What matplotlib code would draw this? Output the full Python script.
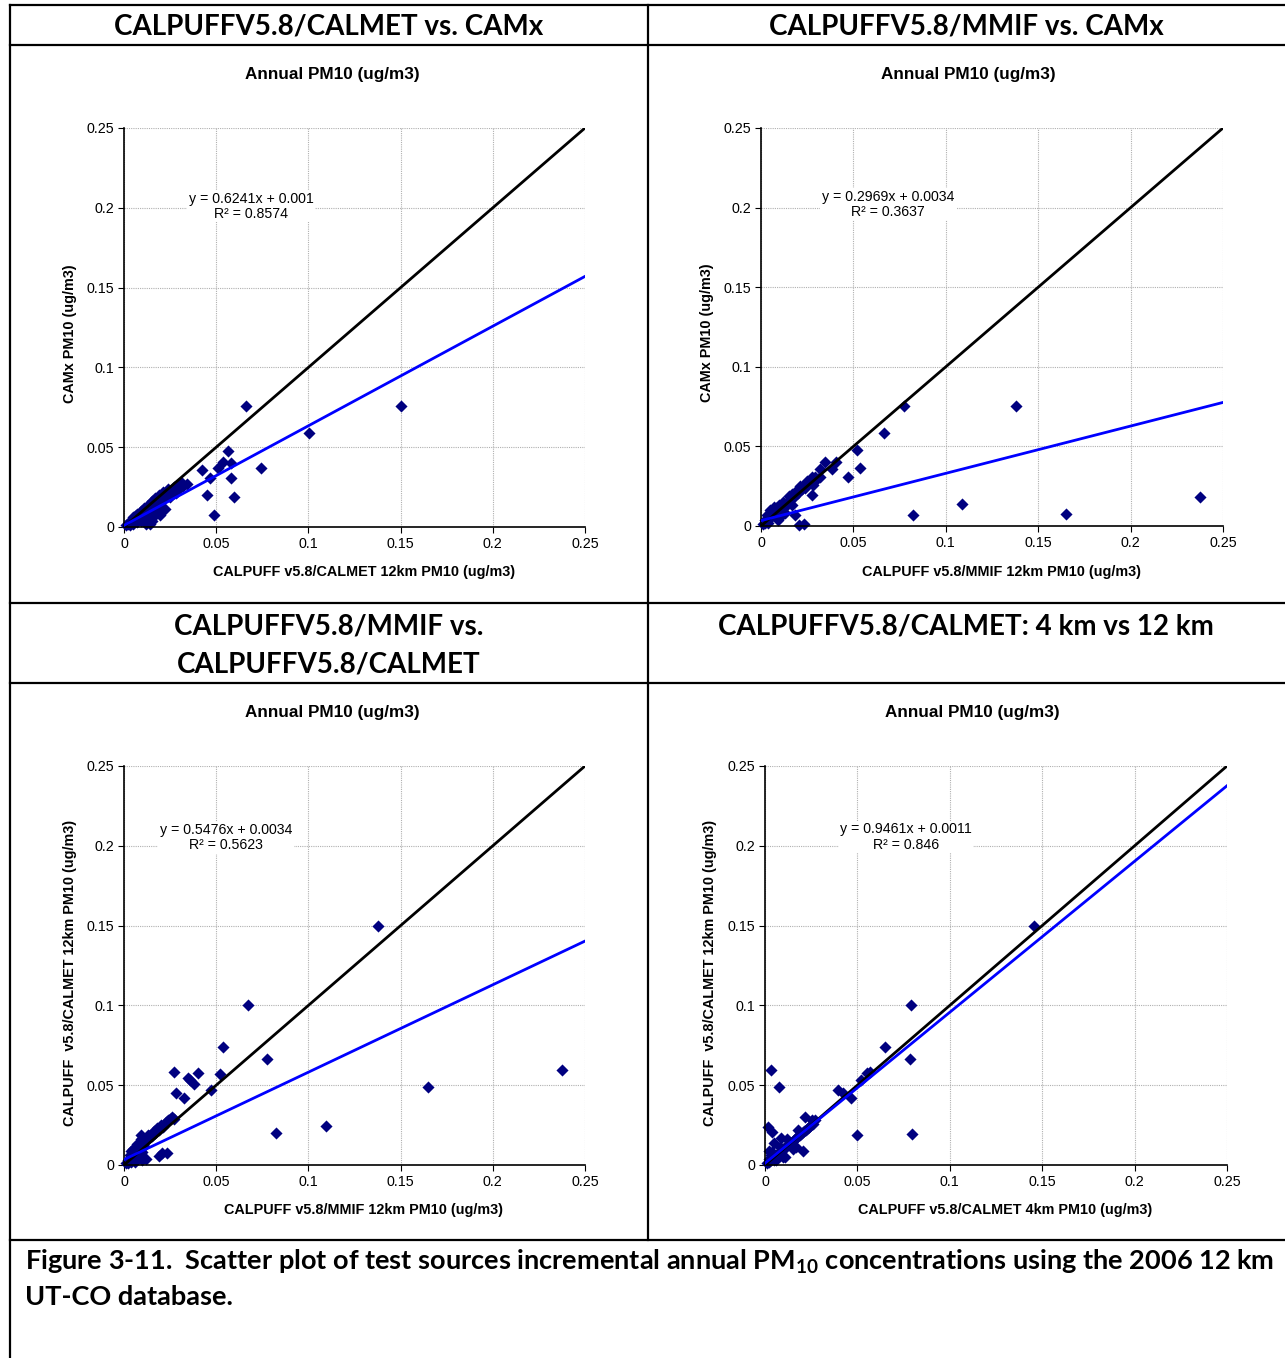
import matplotlib
matplotlib.use("Agg")
import matplotlib.pyplot as plt
from matplotlib.lines import Line2D
import numpy as np

W, H = 1285, 1358

# --- data ------------------------------------------------------------------
calmet_camx_x = [0.001, 0.002, 0.003, 0.003, 0.004, 0.005, 0.005, 0.006, 0.007, 0.007, 0.008, 0.009, 0.009,
                 0.010, 0.011, 0.011, 0.012, 0.013, 0.013, 0.014, 0.015, 0.015, 0.016, 0.017, 0.017, 0.018,
                 0.019, 0.019, 0.020, 0.021, 0.022, 0.022, 0.023, 0.024, 0.025, 0.026, 0.027, 0.028, 0.029,
                 0.030, 0.031, 0.032, 0.034, 0.012, 0.016, 0.018, 0.020, 0.014, 0.009, 0.006,
                 0.0662, 0.150, 0.1003, 0.0743, 0.0564, 0.0537, 0.058, 0.051, 0.0423, 0.0466, 0.058,
                 0.045, 0.0596, 0.0488, 0.0195, 0.021]
calmet_camx_y = [0.001, 0.002, 0.004, 0.001, 0.003, 0.006, 0.002, 0.004, 0.008, 0.003, 0.006, 0.010, 0.004,
                 0.007, 0.012, 0.005, 0.009, 0.014, 0.006, 0.010, 0.016, 0.004, 0.012, 0.018, 0.008, 0.014,
                 0.020, 0.009, 0.016, 0.022, 0.018, 0.011, 0.021, 0.024, 0.019, 0.023, 0.025, 0.021, 0.026,
                 0.024, 0.028, 0.026, 0.027, 0.002, 0.007, 0.012, 0.010, 0.002, 0.008, 0.007,
                 0.0758, 0.0758, 0.0589, 0.037, 0.0476, 0.0407, 0.040, 0.037, 0.0357, 0.0307, 0.0307,
                 0.020, 0.0188, 0.0075, 0.0075, 0.012]

mmif_camx_x = [0.001, 0.002, 0.002, 0.003, 0.004, 0.004, 0.005, 0.006, 0.006, 0.007, 0.008, 0.008, 0.009,
               0.010, 0.010, 0.011, 0.012, 0.012, 0.013, 0.014, 0.015, 0.015, 0.016, 0.017, 0.018, 0.019,
               0.020, 0.021, 0.022, 0.023, 0.024, 0.025, 0.026, 0.027, 0.028, 0.029, 0.030, 0.032, 0.003,
               0.005, 0.007, 0.009, 0.011, 0.013, 0.017,
               0.0774, 0.138, 0.0666, 0.052, 0.0536, 0.047, 0.0822, 0.109, 0.165, 0.2375, 0.0276, 0.0184,
               0.0233, 0.0206, 0.0346, 0.032, 0.0384, 0.0406, 0.0276]
mmif_camx_y = [0.001, 0.002, 0.004, 0.003, 0.005, 0.002, 0.007, 0.006, 0.009, 0.008, 0.007, 0.011, 0.010,
               0.009, 0.013, 0.012, 0.011, 0.015, 0.014, 0.013, 0.016, 0.019, 0.017, 0.020, 0.018, 0.022,
               0.021, 0.025, 0.023, 0.026, 0.024, 0.028, 0.027, 0.029, 0.026, 0.031, 0.029, 0.031, 0.007,
               0.010, 0.012, 0.004, 0.006, 0.008, 0.013,
               0.0754, 0.0754, 0.0584, 0.048, 0.0364, 0.031, 0.0069, 0.0138, 0.0075, 0.0182, 0.0195, 0.0069,
               0.0013, 0.0005, 0.040, 0.0358, 0.0358, 0.040, 0.0308]

mmif_calmet_x = [0.001, 0.002, 0.002, 0.003, 0.004, 0.004, 0.005, 0.006, 0.006, 0.007, 0.008, 0.008, 0.009,
                 0.010, 0.010, 0.011, 0.012, 0.013, 0.014, 0.015, 0.016, 0.017, 0.018, 0.019, 0.020, 0.021,
                 0.022, 0.023, 0.024, 0.025, 0.026, 0.027, 0.003, 0.005, 0.007, 0.009, 0.011, 0.013, 0.004,
                 0.006, 0.010, 0.012,
                 0.138, 0.0672, 0.0776, 0.0537, 0.0271, 0.040, 0.0347, 0.0358, 0.038, 0.052, 0.0282, 0.0325,
                 0.0472, 0.0824, 0.019, 0.0206, 0.0233, 0.0092, 0.1095, 0.165, 0.2375]
mmif_calmet_y = [0.001, 0.003, 0.001, 0.004, 0.006, 0.002, 0.007, 0.009, 0.004, 0.010, 0.011, 0.006, 0.013,
                 0.014, 0.008, 0.015, 0.017, 0.016, 0.019, 0.018, 0.021, 0.020, 0.023, 0.022, 0.025, 0.024,
                 0.026, 0.027, 0.028, 0.029, 0.030, 0.029, 0.006, 0.010, 0.013, 0.016, 0.012, 0.019, 0.009,
                 0.002, 0.003, 0.004,
                 0.150, 0.100, 0.0664, 0.0739, 0.058, 0.0576, 0.0545, 0.053, 0.051, 0.057, 0.045, 0.042,
                 0.047, 0.020, 0.0056, 0.0075, 0.0075, 0.0188, 0.0244, 0.049, 0.0595]

km4_km12_x = [0.001, 0.002, 0.002, 0.003, 0.004, 0.005, 0.005, 0.006, 0.007, 0.008, 0.009, 0.010, 0.011,
              0.012, 0.013, 0.014, 0.015, 0.016, 0.017, 0.018, 0.019, 0.020, 0.021, 0.022, 0.023, 0.024,
              0.025, 0.026, 0.027, 0.003, 0.006, 0.008, 0.010, 0.012, 0.015, 0.018, 0.004, 0.002,
              0.1456, 0.079, 0.0785, 0.0795, 0.050, 0.065, 0.0032, 0.0076, 0.0395, 0.042, 0.0465, 0.052,
              0.055, 0.057, 0.0016, 0.0038, 0.0049, 0.0087, 0.0216, 0.0254, 0.0206, 0.017, 0.011]
km4_km12_y = [0.001, 0.002, 0.004, 0.003, 0.004, 0.006, 0.003, 0.006, 0.007, 0.008, 0.009, 0.010, 0.011,
              0.012, 0.013, 0.014, 0.015, 0.016, 0.017, 0.018, 0.019, 0.020, 0.021, 0.022, 0.023, 0.024,
              0.025, 0.026, 0.028, 0.006, 0.003, 0.011, 0.005, 0.016, 0.010, 0.022, 0.008, 0.009,
              0.150, 0.100, 0.0664, 0.0194, 0.0188, 0.074, 0.0595, 0.049, 0.047, 0.045, 0.042, 0.053,
              0.0576, 0.058, 0.024, 0.0207, 0.0138, 0.017, 0.030, 0.028, 0.0088, 0.011, 0.005]

slopes = [0.6241, 0.2969, 0.5476, 0.9461]
intercepts = [0.001, 0.0034, 0.0034, 0.0011]
eq_labels = ["y = 0.6241x + 0.001\nR² = 0.8574",
             "y = 0.2969x + 0.0034\nR² = 0.3637",
             "y = 0.5476x + 0.0034\nR² = 0.5623",
             "y = 0.9461x + 0.0011\nR² = 0.846"]
x_labels = ["CALPUFF v5.8/CALMET 12km PM10 (ug/m3)",
            "CALPUFF v5.8/MMIF 12km PM10 (ug/m3)",
            "CALPUFF v5.8/MMIF 12km PM10 (ug/m3)",
            "CALPUFF v5.8/CALMET 4km PM10 (ug/m3)"]
y_labels = ["CAMx PM10 (ug/m3)", "CAMx PM10 (ug/m3)",
            "CALPUFF  v5.8/CALMET 12km PM10 (ug/m3)",
            "CALPUFF  v5.8/CALMET 12km PM10 (ug/m3)"]
ticks = [0, 0.05, 0.1, 0.15, 0.2, 0.25]
tick_labels = ["0", "0.05", "0.1", "0.15", "0.2", "0.25"]

# --- layout (pixels in the reference) --------------------------------------
# axes boxes: left, top(y of 0.25), width, height
boxes = [(124, 128, 461, 399), (761, 128, 462, 398), (124, 766, 461, 399), (765, 766, 462, 399)]
eq_pos = [(0.0689, 0.201), (0.0687, 0.202), (0.0553, 0.205), (0.0763, 0.2055)]
title_pos = [(332, 75), (968, 75), (332, 713), (972, 713)]
xlabel_pos = [(364, 572), (1001, 572), (363, 1210), (1005, 1210)]
ylabel_pos = [(70, 334), (707, 333), (70, 973), (710, 973)]

ARIAL = "Liberation Sans"
HEAD = "Lato"

plt.rcParams["mathtext.fontset"] = "custom"
plt.rcParams["mathtext.rm"] = "Lato:bold"
plt.rcParams["mathtext.bf"] = "Lato:bold"

fig = plt.figure(figsize=(W / 100, H / 100), dpi=100)


def fx(px):
    return px / W


def fy(py):
    return 1 - py / H


datasets = [(calmet_camx_x, calmet_camx_y), (mmif_camx_x, mmif_camx_y),
            (mmif_calmet_x, mmif_calmet_y), (km4_km12_x, km4_km12_y)]

for i, (xs, ys) in enumerate(datasets):
    l, t, w, h = boxes[i]
    ax = fig.add_axes([fx(l), fy(t + h), w / W, h / H])
    ax.set_xlim(0, 0.25)
    ax.set_ylim(0, 0.25)
    ax.set_xticks(ticks)
    ax.set_yticks(ticks)
    ax.set_xticklabels(tick_labels, fontfamily=ARIAL, fontsize=10.3)
    ax.set_yticklabels(tick_labels, fontfamily=ARIAL, fontsize=10.3)
    ax.tick_params(length=4, width=0.8, pad=3)
    ax.grid(True, color="#b0b0b0", linestyle=(0, (1, 1)), linewidth=0.8)
    for side in ["top", "right"]:
        ax.spines[side].set_visible(False)
    for side in ["left", "bottom"]:
        ax.spines[side].set_linewidth(1.2)
    ax.set_axisbelow(True)

    ax.plot([0, 0.25], [0, 0.25], color="black", lw=2, zorder=3)
    xl = np.array([0, 0.25])
    ax.plot(xl, slopes[i] * xl + intercepts[i], color="#0000ff", lw=2, zorder=4)
    ax.scatter(xs, ys, marker="D", s=38, color="#000080", linewidths=0, zorder=2, clip_on=False)

    ax.text(eq_pos[i][0], eq_pos[i][1], eq_labels[i], ha="center", va="center",
            fontfamily=ARIAL, fontsize=10.2, linespacing=1.1, zorder=5,
            bbox=dict(facecolor="white", edgecolor="none", pad=1))

    fig.text(fx(title_pos[i][0]), fy(title_pos[i][1]), "Annual PM10 (ug/m3)", ha="center",
             va="center", fontfamily=ARIAL, fontweight="bold", fontsize=12.3)
    fig.text(fx(xlabel_pos[i][0]), fy(xlabel_pos[i][1]), x_labels[i], ha="center", va="center",
             fontfamily=ARIAL, fontweight="bold", fontsize=10.4)
    fig.text(fx(ylabel_pos[i][0]), fy(ylabel_pos[i][1]), y_labels[i], ha="center", va="center",
             rotation=90, fontfamily=ARIAL, fontweight="bold", fontsize=10.4)

# --- table borders ----------------------------------------------------------
segments = [((10, 5), (W, 5)), ((10, 5), (10, H)), ((648, 5), (648, 1240)),
            ((10, 45), (W, 45)), ((10, 603), (W, 603)), ((10, 683), (W, 683)),
            ((10, 1240), (W, 1240))]
for (x0, y0), (x1, y1) in segments:
    fig.add_artist(Line2D([fx(x0), fx(x1)], [fy(y0), fy(y1)], color="black", lw=1.6))

headers = [(329, 26, "CALPUFFV5.8/CALMET vs. CAMx"),
           (966, 26, "CALPUFFV5.8/MMIF vs. CAMx"),
           (329, 626, "CALPUFFV5.8/MMIF vs."),
           (329, 664, "CALPUFFV5.8/CALMET"),
           (966, 626, "CALPUFFV5.8/CALMET: 4 km vs 12 km")]
for x, y, s in headers:
    fig.text(fx(x), fy(y), s, ha="center", va="center", fontfamily=HEAD, fontweight="bold", fontsize=20)

fig.text(fx(25), fy(1262), "Figure 3-11.  Scatter plot of test sources incremental annual PM$_{10}$ "
         "concentrations using the 2006 12 km", ha="left", va="center", fontfamily=HEAD,
         fontweight="bold", fontsize=19.5)
fig.text(fx(25), fy(1297), "UT-CO database.", ha="left", va="center", fontfamily=HEAD,
         fontweight="bold", fontsize=19.5)

fig.savefig("out.png", dpi=100)
